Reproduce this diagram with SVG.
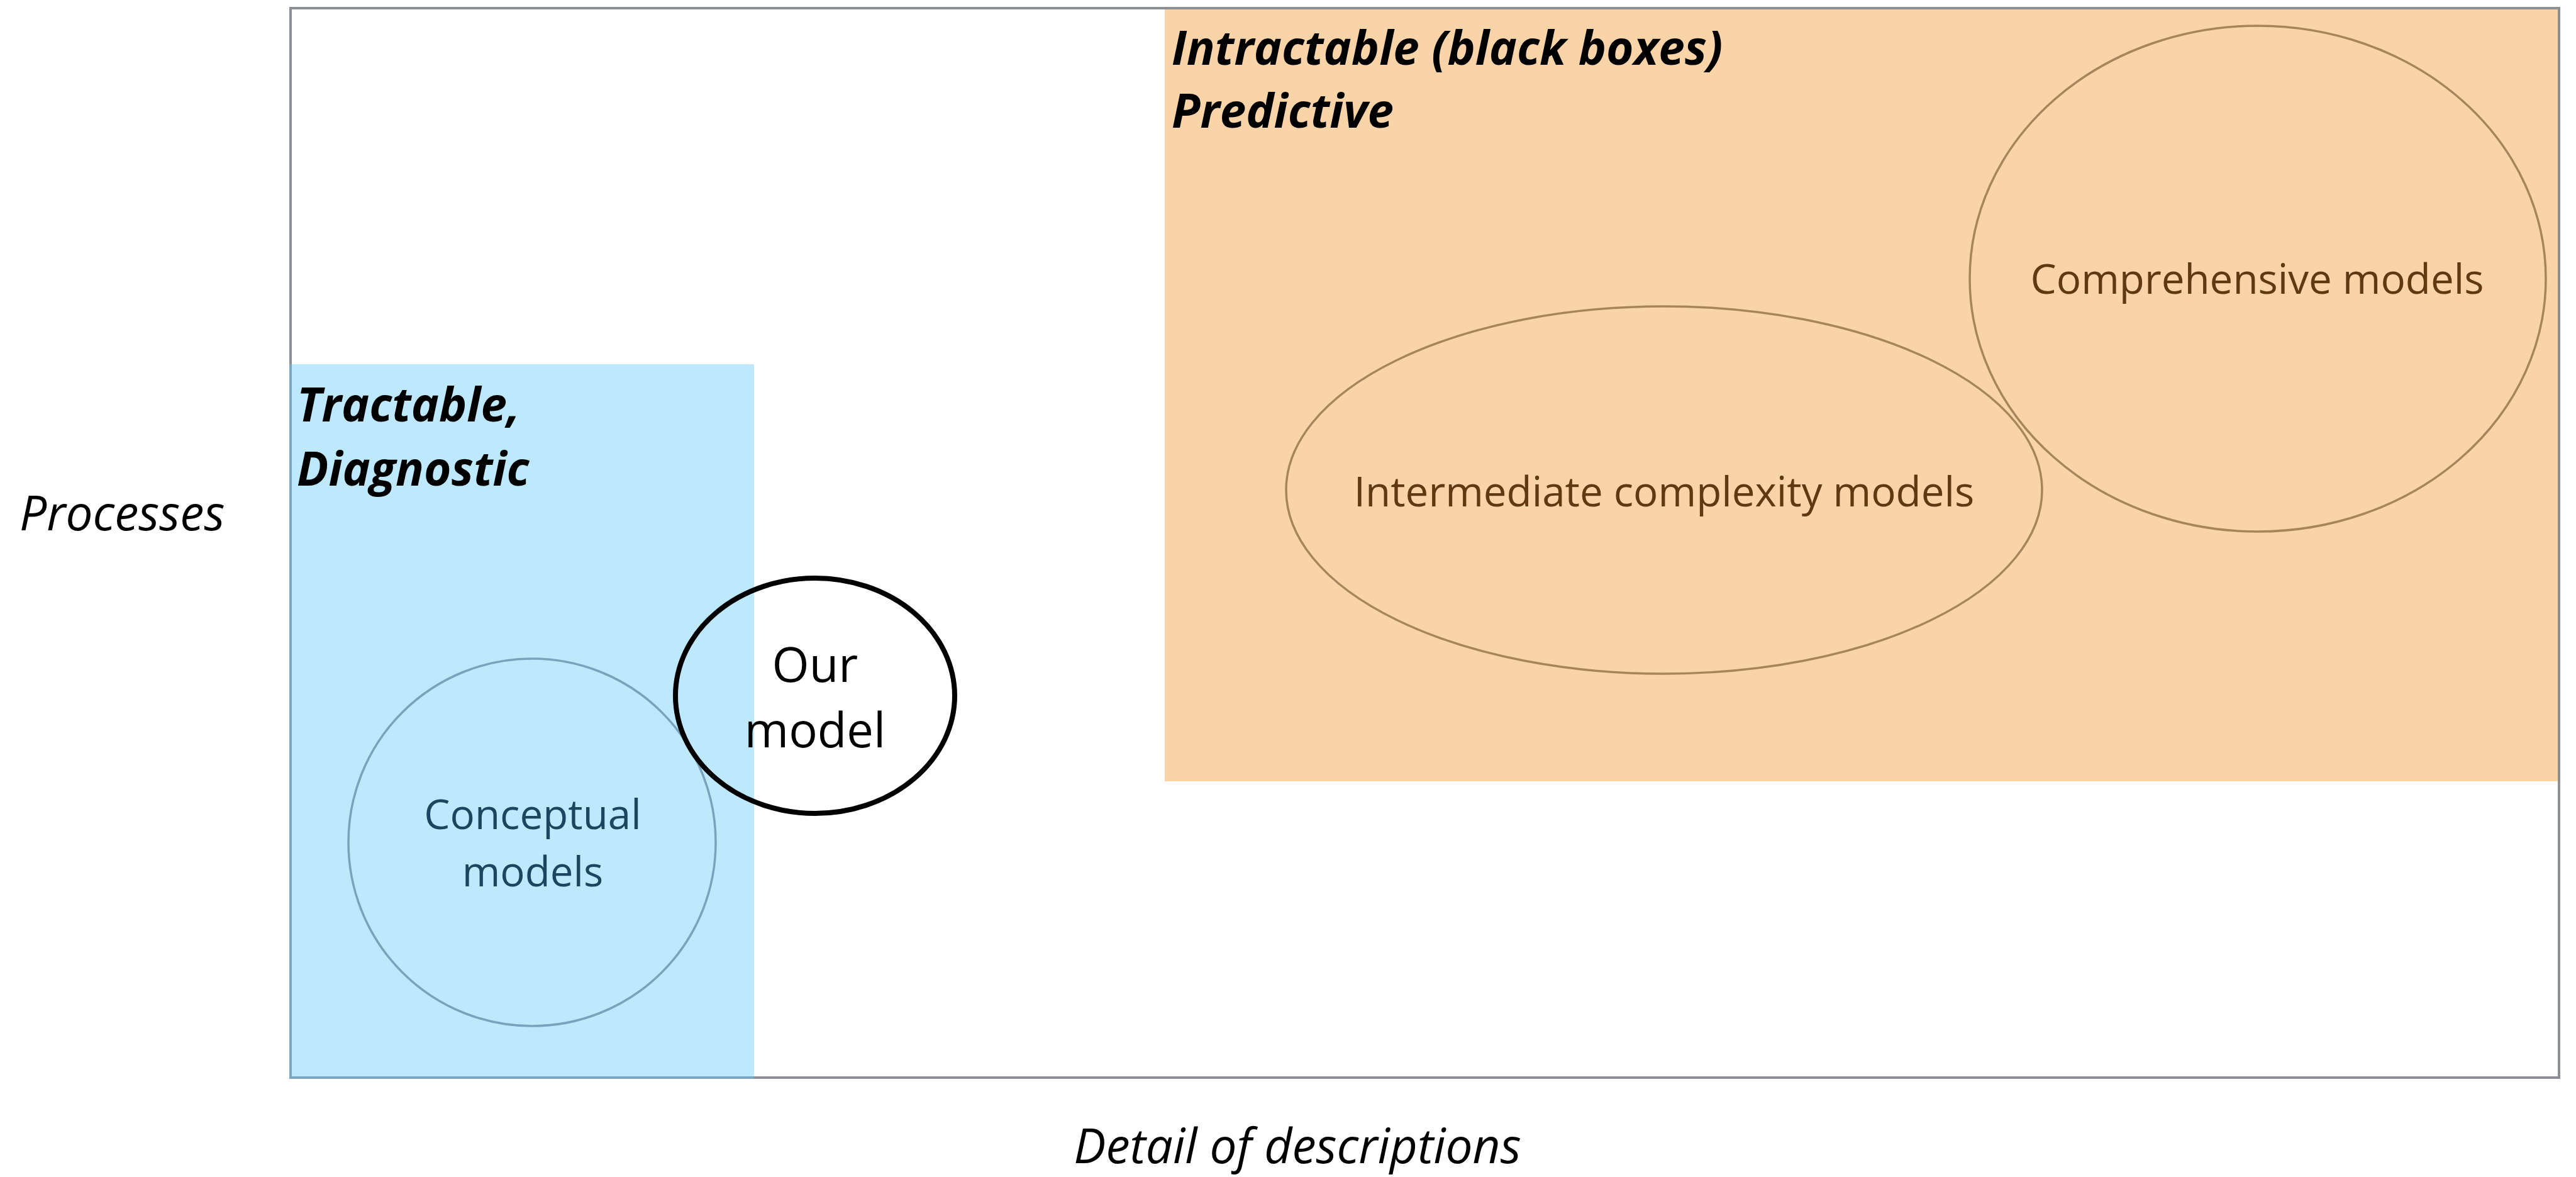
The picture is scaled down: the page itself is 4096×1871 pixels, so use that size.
<svg xmlns="http://www.w3.org/2000/svg" width="4096" height="1871" viewBox="0 0 4096 1871">
<style>
text{font-family:"Open Sans","Noto Sans","Liberation Sans",sans-serif}
.axis{font-style:italic;font-size:76.5px;fill:#000}
.head{font-style:italic;font-weight:bold;font-size:74.5px;fill:#000}
.lbl{font-size:65.5px;text-anchor:middle}
</style>
<rect width="4096" height="1871" fill="#fff"/>
<g id="frame">
<rect x="462" y="13" width="3607" height="1700" fill="#fff" stroke="#8c8f94" stroke-width="4"/>
</g>
<g id="tractable">
<rect x="462" y="579" width="737" height="1134" fill="#bee9fd"/>
<path d="M462 579 V1713 H1199" fill="none" stroke="#7ca5c1" stroke-width="4"/>
<text class="head" x="472" y="670">Tractable,</text>
<text class="head" x="472" y="772">Diagnostic</text>
</g>
<g id="intractable">
<rect x="1852" y="15" width="2215" height="1227" fill="#f8d4a8"/>
<text class="head" x="1863" y="103">Intractable (black boxes)</text>
<text class="head" x="1863" y="203">Predictive</text>
</g>
<g id="conceptual">
<circle cx="846" cy="1339" r="292" fill="none" stroke="#7aa2bc" stroke-width="3.5"/>
<text class="lbl" x="847" y="1318" fill="#1d4560">Conceptual</text>
<text class="lbl" x="847" y="1409" fill="#1d4560">models</text>
</g>
<g id="our-model">
<ellipse cx="1296" cy="1106" rx="222" ry="187" fill="none" stroke="#000" stroke-width="8"/>
<text x="1296" y="1084" font-size="76" text-anchor="middle" fill="#000">Our</text>
<text x="1296" y="1188" font-size="76" text-anchor="middle" fill="#000">model</text>
</g>
<g id="intermediate">
<ellipse cx="2646" cy="779" rx="601" ry="292" fill="none" stroke="#a8845c" stroke-width="3.5"/>
<text class="lbl" x="2646" y="805" fill="#5e3912">Intermediate complexity models</text>
</g>
<g id="comprehensive">
<ellipse cx="3590" cy="443" rx="458" ry="402" fill="none" stroke="#a8845c" stroke-width="3.5"/>
<text class="lbl" x="3589" y="467" fill="#5e3912">Comprehensive models</text>
</g>
<g id="connectors"></g>
<g id="axes">
<text class="axis" x="31" y="843">Processes</text>
<text class="axis" x="2063" y="1849" text-anchor="middle">Detail of descriptions</text>
</g>
</svg>
